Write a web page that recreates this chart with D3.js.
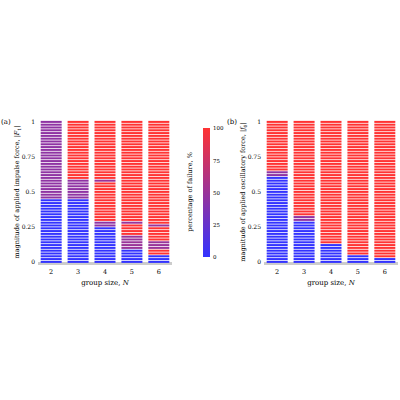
<!DOCTYPE html><html><head><meta charset="utf-8"><script src="https://cdn.jsdelivr.net/npm/d3@7"></script>
<style>body{margin:0;background:#fff}text{font-family:"DejaVu Serif","Liberation Serif",serif}</style></head><body>
<svg id="c" width="400" height="400"></svg>
<script>
const groups=[2,3,4,5,6];
const levelStep=0.02;
const yTicks=[0,0.25,0.5,0.75,1];
const yTickLabels=["0","0.25","0.5","0.75","1"];
const cbTicks=[0,25,50,75,100];
// segments per group: [from, to, percent failure]
const segA2=[[0,0.45,0],[0.45,1.01,45]];
const segA3=[[0,0.45,0],[0.45,0.59,45],[0.59,1.01,100]];
const segA4=[[0,0.25,0],[0.25,0.3,45],[0.3,0.57,100],[0.57,0.59,50],[0.59,1.01,100]];
const segA5=[[0,0.1,0],[0.1,0.2,50],[0.2,0.27,100],[0.27,0.29,50],[0.29,1.01,100]];
const segA6=[[0,0.06,0],[0.06,0.1,100],[0.1,0.15,50],[0.15,0.25,100],[0.25,0.27,50],[0.27,1.01,100]];
const segB2=[[0,0.62,0],[0.62,0.65,45],[0.65,1.01,100]];
const segB3=[[0,0.3,0],[0.3,0.34,45],[0.34,1.01,100]];
const segB4=[[0,0.13,0],[0.13,1.01,100]];
const segB5=[[0,0.05,0],[0.05,1.01,100]];
const segB6=[[0,0.03,0],[0.03,1.01,100]];
const panelA=[segA2,segA3,segA4,segA5,segA6];
const panelB=[segB2,segB3,segB4,segB5,segB6];
const levels=d3.range(0,1+1e-9,levelStep);
const color=d3.scaleLinear().domain([0,100]).range(["#3333ff","#ff3333"]).interpolate(d3.interpolateRgb);
const svg=d3.select("#c");
function pct(seg,v){for(const s of seg){if(v>=s[0]-1e-9&&v<s[1]-1e-9)return s[2];}return seg[seg.length-1][2];}
function panel(x0,x1,data,tag,ylab){
  const y=d3.scaleLinear().domain([0,1]).range([262,122]);
  const x=d3.scaleBand().domain(groups).range([x0,x1]).paddingInner(0.22).paddingOuter(0.1);
  const g=svg.append("g");
  g.append("rect").attr("x",x0).attr("y",262).attr("width",x1-x0).attr("height",3).attr("fill","#ccc");
  const bh=(y(0)-y(levelStep));
  groups.forEach((n,i)=>{
    g.selectAll(null).data(levels).enter().append("rect")
      .attr("x",x(n)).attr("width",x.bandwidth())
      .attr("y",d=>y(d)-bh*0.4).attr("height",bh*0.72)
      .attr("fill",d=>color(pct(data[i],d)));
  });
  const ax=g.append("g").attr("transform",`translate(${x0},0)`).call(d3.axisLeft(y).tickValues(yTicks).tickFormat((d,i)=>yTickLabels[i]).tickSize(0).tickPadding(3));
  ax.select(".domain").remove();ax.selectAll("text").attr("font-size",6);
  const bx=g.append("g").attr("transform",`translate(0,266)`).call(d3.axisBottom(x).tickSize(0).tickPadding(3));
  bx.select(".domain").remove();bx.selectAll("text").attr("font-size",6.5);
  g.append("text").attr("x",(x0+x1)/2).attr("y",285).attr("text-anchor","middle").attr("font-size",7)
   .html('group size, <tspan font-style="italic">N</tspan>');
  g.append("text").attr("transform",`translate(${x0-19},${(122+262)/2}) rotate(-90)`).attr("text-anchor","middle").attr("font-size",6.5).html(ylab);
  g.append("text").attr("x",x0-37).attr("y",124).attr("font-size",7).text(tag);
}
panel(38,172,panelA,"(a)",'magnitude of applied impulse force, |<tspan font-style="italic">F</tspan><tspan font-size="4.5" dy="1.5">1</tspan><tspan dy="-1.5">|</tspan>');
panel(264,398,panelB,"(b)",'magnitude of applied oscillatory force, |<tspan font-style="italic">f</tspan><tspan font-size="4.5" dy="1.5">0</tspan><tspan dy="-1.5">|</tspan>');
// colorbar
const defs=svg.append("defs");const lg=defs.append("linearGradient").attr("id","cb").attr("x1",0).attr("y1",1).attr("x2",0).attr("y2",0);
cbTicks.forEach(t=>lg.append("stop").attr("offset",t/100).attr("stop-color",color(t)));
const cy=d3.scaleLinear().domain([0,100]).range([257,128]);
svg.append("rect").attr("x",203).attr("y",128).attr("width",7).attr("height",129).attr("fill","url(#cb)");
const ca=svg.append("g").attr("transform","translate(210,0)").call(d3.axisRight(cy).tickValues(cbTicks).tickSize(0).tickPadding(3));
ca.select(".domain").remove();ca.selectAll("text").attr("font-size",5.5);
svg.append("text").attr("transform","translate(192,192) rotate(-90)").attr("text-anchor","middle").attr("font-size",6.5).text("percentage of failure, %");
</script></body></html>
